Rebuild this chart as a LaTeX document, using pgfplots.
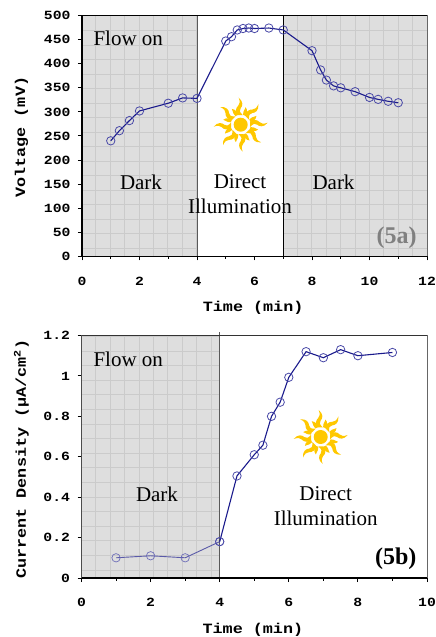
\documentclass[border=0pt]{standalone}
\usepackage{pgfplots}
\pgfplotsset{compat=1.18}
\usepackage{fontspec}
\setmainfont{Liberation Serif}
\newfontfamily\cour[FakeStretch=1.18]{Liberation Mono}
\definecolor{bggray}{HTML}{DEDEDE}
\definecolor{gridgray}{HTML}{CBCBCB}
\definecolor{sun}{HTML}{FFC800}
\definecolor{ln}{HTML}{1A1A8C}
\definecolor{mk}{HTML}{4A4AA8}
\definecolor{lnl}{HTML}{5A5AA8}
\newcommand{\sunicon}[2]{%
  \begin{scope}[shift={(#1,#2)}]
    \fill[sun] (0,0) circle (7);
    \foreach \a in {0,45,...,315}{
      \fill[sun,rotate=\a] (9.5,-2.6) .. controls (12,-6) and (17,-5) .. (19,-2.5)
        .. controls (20.5,-0.8) and (23,-0.5) .. (27,-2)
        .. controls (23,3) and (18.5,2) .. (16.5,0)
        .. controls (14.5,-2) and (12.5,-1) .. (9.5,2.2) -- cycle;
      \fill[sun,rotate=\a+22.5] (10,-1.6) .. controls (12,-3.2) and (14,-2) .. (18,-2.2)
        .. controls (16,1.5) and (13,1.2) .. (10,1.6) -- cycle;
    }
  \end{scope}}
\pgfplotsset{common/.style={
  scale only axis, clip=false,
  axis line style={draw=none},
  tick align=outside, xtick pos=bottom, ytick pos=left,
  major tick length=4pt, minor tick length=2.5pt,
  tick style={black,line width=1pt},
  minor tick style={black,line width=0.8pt},
  /pgf/number format/assume math mode=true,
  tick label style={font=\fontsize{12.5}{13}\selectfont\cour\bfseries},
  label style={font=\fontsize{14.2}{15}\selectfont\cour\bfseries},
  minor x tick num=1,
  xticklabel style={yshift=-13pt},
  yticklabel style={xshift=-4pt},
}}
\begin{document}
\begin{tikzpicture}
\path[use as bounding box] (0,0) rectangle (436pt,637pt);
\begin{axis}[common, at={(82pt,380.5pt)}, anchor=south west, width=345pt, height=241pt,
  xmin=0,xmax=12,ymin=0,ymax=500, xtick={0,2,...,12}, ytick={0,50,...,500},
  xlabel={Time (min)}, ylabel={Voltage (mV)},
  xlabel style={at={(axis description cs:0.496,0)},anchor=center,yshift=-51.5pt},
  ylabel style={at={(axis description cs:0,0.495)},anchor=center,yshift=60.5pt,rotate=0}]
\addplot[draw=none,fill=bggray,forget plot] coordinates {(0,0)(4,0)(4,500)(0,500)} -- cycle;
\addplot[draw=none,fill=bggray,forget plot] coordinates {(7,0)(12,0)(12,500)(7,500)} -- cycle;
\foreach \k in {0,...,23}{
  \pgfmathsetmacro{\vx}{(13.7+14.4*\k)/28.75}
  \pgfmathparse{(\vx<4)||(\vx>7)?1:0}
  \ifnum\pgfmathresult=1
    \edef\tmp{\noexpand\draw[gridgray,line width=0.8pt] (axis cs:\vx,0) -- (axis cs:\vx,500);}\tmp
  \fi}
\foreach \k in {0,...,15}{
  \pgfmathsetmacro{\vy}{(225.8-14.5*\k)/0.482}
  \edef\tmp{\noexpand\draw[gridgray,line width=0.8pt] (axis cs:0,\vy) -- (axis cs:4,\vy) (axis cs:7,\vy) -- (axis cs:12,\vy);}\tmp}
\draw[black!65,line width=0.9pt] (axis cs:4,0) -- (axis cs:4,500);
\draw[black,line width=0.9pt] (axis cs:7,0) -- (axis cs:7,500);
\draw[black,line width=0.8pt] (axis cs:0,500) -- (axis cs:12,500);
\draw[black!60,line width=0.9pt] (axis cs:12,0) -- (axis cs:12,500);
\draw[black,line width=1.6pt] (axis cs:0,0) -- (axis cs:0,500);
\draw[black,line width=1.1pt] (axis cs:0,0) -- (axis cs:12,0);
\addplot[color=ln,line width=1.1pt,mark=o,mark size=4.2pt,mark options={draw=mk,line width=0.8pt,fill=none}]
 coordinates {(1,240)(1.3,261)(1.65,282)(2,302)(3,318)(3.5,329)(4,328)(5,447)(5.2,456)(5.4,470)(5.6,473)(5.8,474)(6,473)(6.5,474)(7,470)(8,427)(8.3,387)(8.5,366)(8.75,354)(9,350)(9.5,342)(10,330)(10.3,326)(10.65,322)(11,319)};
\end{axis}
\begin{axis}[common, at={(81.5pt,59pt)}, anchor=south west, width=345.5pt, height=242.5pt,
  xmin=0,xmax=10,ymin=0,ymax=1.2, xtick={0,2,...,10}, ytick={0,0.2,...,1.2},
  yticklabel style={/pgf/number format/fixed,/pgf/number format/precision=1},
  xlabel={Time (min)}, ylabel={Current Density (μA/cm\textsuperscript{2})},
  xlabel style={at={(axis description cs:0.496,0)},anchor=center,yshift=-52pt},
  ylabel style={at={(axis description cs:0,0.49)},anchor=center,yshift=60pt}]
\addplot[draw=none,fill=bggray,forget plot] coordinates {(0,0)(4,0)(4,1.2)(0,1.2)} -- cycle;
\foreach \k in {0,...,8}{
  \pgfmathsetmacro{\vx}{(14.2+14.4*\k)/34.55}
  \edef\tmp{\noexpand\draw[gridgray,line width=0.8pt] (axis cs:\vx,0) -- (axis cs:\vx,1.2);}\tmp}
\foreach \k in {0,...,16}{
  \pgfmathsetmacro{\vy}{(8+14.6*\k)/202.08}
  \edef\tmp{\noexpand\draw[gridgray,line width=0.8pt] (axis cs:0,\vy) -- (axis cs:4,\vy);}\tmp}
\draw[black!65,line width=0.8pt] (axis cs:4,0) -- (axis cs:4,1.215);
\draw[black!80,line width=0.8pt] (axis cs:0,1.2) -- (axis cs:10,1.2);
\draw[black!60,line width=0.9pt] (axis cs:10,0) -- (axis cs:10,1.2);
\draw[black!70,line width=0.8pt] (axis cs:0,0) -- (axis cs:0,1.2);
\draw[black,line width=1.1pt] (axis cs:0,0) -- (axis cs:10,0);
\addplot[color=lnl,line width=0.9pt,mark=o,mark size=4.2pt,mark options={draw=mk!80,line width=0.7pt,fill=none}]
 coordinates {(1,0.10)(2,0.11)(3,0.10)(4,0.18)};
\addplot[color=ln,line width=1.1pt,mark=o,mark size=4.2pt,mark options={draw=mk,line width=0.8pt,fill=none}]
 coordinates {(4,0.18)(4.5,0.505)(5,0.61)(5.25,0.657)(5.5,0.80)(5.75,0.87)(6,0.993)(6.5,1.12)(7,1.09)(7.5,1.13)(8,1.10)(9,1.116)};
\end{axis}
\begin{scope}[x=1pt,y=-1pt,shift={(0pt,637pt)}]
\sunicon{240.7}{124.7}
\sunicon{320.7}{437}
\tikzset{t/.style={font=\fontsize{21}{21}\selectfont,inner sep=0pt}}
\node[t,anchor=west] at (93.3,38) {Flow on};
\node[t] at (141,182) {Dark};
\node[t] at (240,182) {Direct};
\node[t] at (240,206) {Illumination};
\node[t] at (333.5,182) {Dark};
\node[font=\fontsize{24}{24}\selectfont\bfseries,text=black!50,inner sep=0pt] at (396.7,238) {(5a)};
\node[t,anchor=west] at (93.3,359) {Flow on};
\node[t] at (157,494) {Dark};
\node[t] at (325.7,494) {Direct};
\node[t] at (325.7,518) {Illumination};
\node[font=\fontsize{24}{24}\selectfont\bfseries,inner sep=0pt] at (395.7,559) {(5b)};
\end{scope}
\end{tikzpicture}
\end{document}
